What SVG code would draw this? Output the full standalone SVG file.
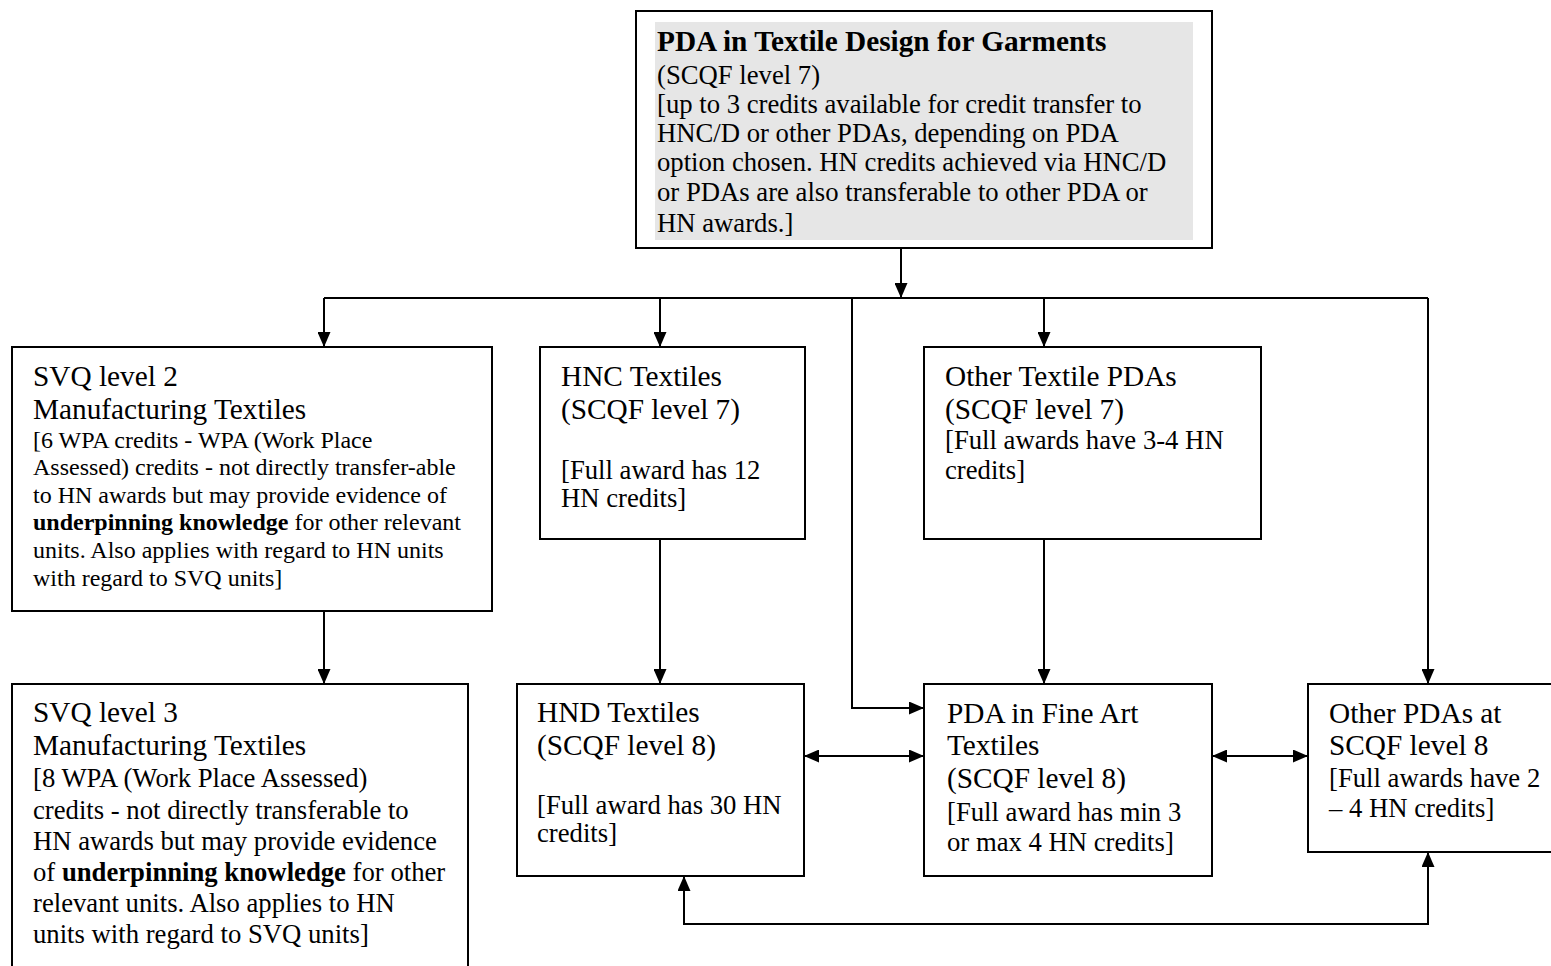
<svg xmlns="http://www.w3.org/2000/svg" width="1551" height="966" viewBox="0 0 1551 966">
<style>
.box{fill:#fff;stroke:#000;stroke-width:2}
.t{font-family:"Liberation Serif","Times New Roman",serif;fill:#000}
.big{font-size:29.3px}
.mid{font-size:26.7px}
.sm{font-size:24px}
.b{font-weight:bold}
.ln{stroke:#000;stroke-width:2;fill:none}
</style>
<defs>
<marker id="ah" markerUnits="userSpaceOnUse" markerWidth="15" markerHeight="13" refX="15" refY="6.5" orient="auto-start-reverse">
<path d="M0,0 L15,6.5 L0,13 z" fill="#000"/>
</marker>
</defs>
<rect width="1551" height="966" fill="#fff"/>
<g id="connectors">
<path class="ln" d="M901,248 V298" marker-end="url(#ah)"/>
<path class="ln" d="M324,298 H1428"/>
<path class="ln" d="M324,298 V347" marker-end="url(#ah)"/>
<path class="ln" d="M660,298 V347" marker-end="url(#ah)"/>
<path class="ln" d="M852,298 V708 H924" marker-end="url(#ah)"/>
<path class="ln" d="M1044,298 V347" marker-end="url(#ah)"/>
<path class="ln" d="M1428,298 V684" marker-end="url(#ah)"/>
<path class="ln" d="M324,611 V684" marker-end="url(#ah)"/>
<path class="ln" d="M660,539 V684" marker-end="url(#ah)"/>
<path class="ln" d="M1044,539 V684" marker-end="url(#ah)"/>
<path class="ln" d="M804,756 H924" marker-start="url(#ah)" marker-end="url(#ah)"/>
<path class="ln" d="M1212,756 H1308" marker-start="url(#ah)" marker-end="url(#ah)"/>
<path class="ln" d="M684,876 V924 H1428 V852" marker-start="url(#ah)" marker-end="url(#ah)"/>
</g>
<g id="top">
<rect class="box" x="636" y="11" width="576" height="237"/>
<rect x="655" y="22" width="538" height="218" fill="#e6e6e6"/>
<text class="t big b" x="657" y="51">PDA in Textile Design for Garments</text>
<text class="t mid" x="657" y="84">(SCQF level 7)</text>
<text class="t mid" x="657" y="113">[up to 3 credits available for credit transfer to</text>
<text class="t mid" x="657" y="142">HNC/D or other PDAs, depending on PDA</text>
<text class="t mid" x="657" y="171">option chosen. HN credits achieved via HNC/D</text>
<text class="t mid" x="657" y="201">or PDAs are also transferable to other PDA or</text>
<text class="t mid" x="657" y="232">HN awards.]</text>
</g>
<g id="svq2">
<rect class="box" x="12" y="347" width="480" height="264"/>
<text class="t big" x="33" y="386">SVQ level 2</text>
<text class="t big" x="33" y="419">Manufacturing Textiles</text>
<text class="t sm" x="33" y="448">[6 WPA credits - WPA (Work Place</text>
<text class="t sm" x="33" y="475">Assessed) credits - not directly transfer-able</text>
<text class="t sm" x="33" y="503">to HN awards but may provide evidence of</text>
<text class="t sm" x="33" y="530"><tspan class="b">underpinning knowledge</tspan> for other relevant</text>
<text class="t sm" x="33" y="558">units. Also applies with regard to HN units</text>
<text class="t sm" x="33" y="586">with regard to SVQ units]</text>
</g>
<g id="hnc">
<rect class="box" x="540" y="347" width="265" height="192"/>
<text class="t big" x="561" y="386">HNC Textiles</text>
<text class="t big" x="561" y="419">(SCQF level 7)</text>
<text class="t mid" x="561" y="479">[Full award has 12</text>
<text class="t mid" x="561" y="507">HN credits]</text>
</g>
<g id="other-textile">
<rect class="box" x="924" y="347" width="337" height="192"/>
<text class="t big" x="945" y="386">Other Textile PDAs</text>
<text class="t big" x="945" y="419">(SCQF level 7)</text>
<text class="t mid" x="945" y="449">[Full awards have 3-4 HN</text>
<text class="t mid" x="945" y="479">credits]</text>
</g>
<g id="svq3">
<rect class="box" x="12" y="684" width="456" height="300"/>
<text class="t big" x="33" y="722">SVQ level 3</text>
<text class="t big" x="33" y="755">Manufacturing Textiles</text>
<text class="t mid" x="33" y="787">[8 WPA (Work Place Assessed)</text>
<text class="t mid" x="33" y="819">credits - not directly transferable to</text>
<text class="t mid" x="33" y="850">HN awards but may provide evidence</text>
<text class="t mid" x="33" y="881">of <tspan class="b">underpinning knowledge</tspan> for other</text>
<text class="t mid" x="33" y="912">relevant units. Also applies to HN</text>
<text class="t mid" x="33" y="943">units with regard to SVQ units]</text>
</g>
<g id="hnd">
<rect class="box" x="517" y="684" width="287" height="192"/>
<text class="t big" x="537" y="722">HND Textiles</text>
<text class="t big" x="537" y="755">(SCQF level 8)</text>
<text class="t mid" x="537" y="814">[Full award has 30 HN</text>
<text class="t mid" x="537" y="842">credits]</text>
</g>
<g id="fine-art">
<rect class="box" x="924" y="684" width="288" height="192"/>
<text class="t big" x="947" y="723">PDA in Fine Art</text>
<text class="t big" x="947" y="755">Textiles</text>
<text class="t big" x="947" y="788">(SCQF level 8)</text>
<text class="t mid" x="947" y="821">[Full award has min 3</text>
<text class="t mid" x="947" y="851">or max 4 HN credits]</text>
</g>
<g id="other-pdas">
<rect class="box" x="1308" y="684" width="260" height="168"/>
<text class="t big" x="1329" y="723">Other PDAs at</text>
<text class="t big" x="1329" y="755">SCQF level 8</text>
<text class="t mid" x="1329" y="787">[Full awards have 2</text>
<text class="t mid" x="1329" y="817">– 4 HN credits]</text>
</g>
</svg>
